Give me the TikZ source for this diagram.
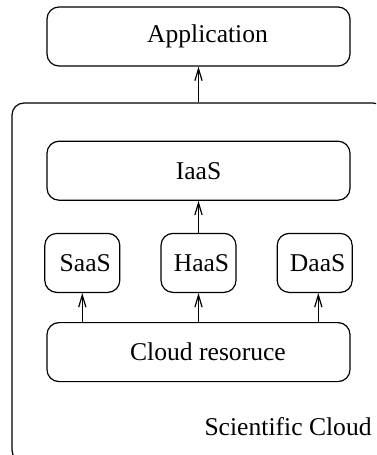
\documentclass[tikz,border=0pt]{standalone}
\usepackage{fontspec}
\setmainfont{Liberation Serif}
\usetikzlibrary{arrows.meta, positioning}
\tikzstyle{layer} = [
  rectangle, rounded corners=6pt, minimum width=151.5pt, minimum height=29.5pt,
  text centered, align=center, draw=black, line width=0.6pt
]
\tikzstyle{service} = [
  rectangle, rounded corners=6pt, minimum width=37.5pt, minimum height=29.5pt,
  inner sep=1pt, text centered, align=center, draw=black, line width=0.6pt
]
\tikzstyle{cloudframe} = [
  rectangle, rounded corners=6pt, minimum width=186.5pt, minimum height=179.5pt,
  draw=black, line width=0.6pt
]
\tikzset{
  arrow/.style={
    line width=0.6pt,
    -{Straight Barb[length=6pt,width=3.6pt]}
  }
}

\begin{document}
\begin{tikzpicture}[
  font=\fontsize{12.8}{15}\selectfont
]

\clip (0,0) rectangle (188pt,-227.5pt);

% ------------------------------------------------
% Marco exterior y aplicacion
% ------------------------------------------------

\node[cloudframe] (sc) at (99.25pt,-141.25pt) {};

\node[layer] (app) at (99.25pt,-18.25pt) {\hspace*{9pt}Application};

% ------------------------------------------------
% Capas dentro de la nube
% ------------------------------------------------

\node[layer, below=37pt of app] (iaas) {IaaS};

\node[service, below=16pt of iaas] (haas) {\hspace*{3pt}HaaS};
\node[service, left=20pt of haas] (saas) {\hspace*{3pt}SaaS};
\node[service, right=20pt of haas] (daas) {\hspace*{3pt}\raisebox{-1pt}{DaaS}};

\node[layer, below=14.5pt of haas] (res) {\hspace*{9.5pt}Cloud resoruce};

\node[anchor=base east, inner sep=0pt] (sclabel) at (186pt,-217.5pt) {Scientific Cloud};

% ------------------------------------------------
% FLECHAS
% ------------------------------------------------

\draw[arrow] (res.north -| saas) -- (saas);
\draw[arrow] (res.north -| haas) -- (haas);
\draw[arrow] ([xshift=1.8pt]res.north -| daas) -- ([xshift=1.8pt]daas.south);

\draw[arrow] (haas) -- (iaas);
\draw[arrow] (sc.north -| app) -- (app);

\end{tikzpicture}
\end{document}
